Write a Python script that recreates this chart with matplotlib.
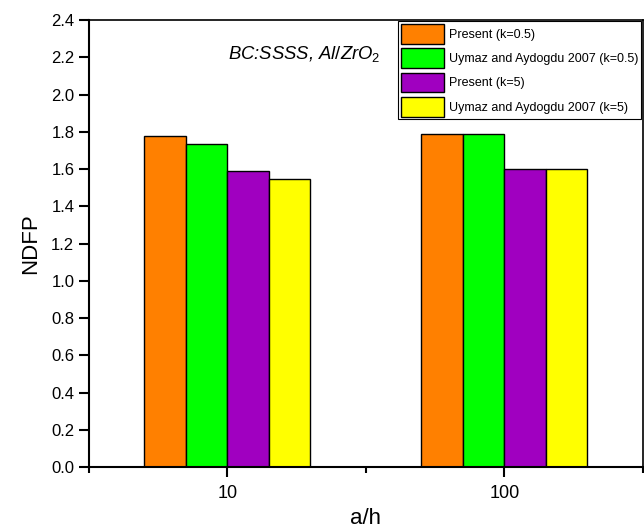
import numpy as np
import matplotlib
matplotlib.use("Agg")
import matplotlib.pyplot as plt
from matplotlib.ticker import MultipleLocator, FormatStrFormatter

plt.rcParams['font.family'] = ['Liberation Sans', 'DejaVu Sans']
plt.rcParams['mathtext.fontset'] = 'custom'
plt.rcParams['mathtext.rm'] = 'Liberation Sans'
plt.rcParams['mathtext.it'] = 'Liberation Sans:italic'

categories = ["10", "100"]
series_names = ["Present (k=0.5)", "Uymaz and Aydogdu 2007 (k=0.5)",
                "Present (k=5)", "Uymaz and Aydogdu 2007 (k=5)"]
present_k05 = [1.78, 1.79]
uymaz_k05 = [1.735, 1.79]
present_k5 = [1.59, 1.60]
uymaz_k5 = [1.545, 1.60]
colors = ["#FF8000", "#00FF00", "#A000C0", "#FFFF00"]

values = [present_k05, uymaz_k05, present_k5, uymaz_k5]

fig = plt.figure(figsize=(6.44, 5.32), dpi=100)
ax = fig.add_axes([0.138, 0.122, 0.860, 0.840])

x = np.arange(1, len(categories) + 1)
w = 0.15
for i, (vals, name, c) in enumerate(zip(values, series_names, colors)):
    ax.bar(x - 0.3 + w * i, vals, width=w, align='edge', color=c,
           edgecolor='black', linewidth=1.0, label=name)

ax.set_xlim(0.5, 2.5)
ax.set_ylim(0, 2.4)
ax.set_xticks(x)
ax.set_xticklabels(categories)
ax.xaxis.set_minor_locator(MultipleLocator(0.5))
ax.yaxis.set_major_locator(MultipleLocator(0.2))
ax.yaxis.set_major_formatter(FormatStrFormatter('%.1f'))
ax.tick_params(axis='both', which='major', direction='out', length=7,
               width=1.5, labelsize=12)
ax.tick_params(axis='x', which='major', labelsize=13, pad=6)
ax.tick_params(axis='x', which='minor', direction='out', length=4, width=1.5)
for s in ['left', 'bottom']:
    ax.spines[s].set_linewidth(1.5)
for s in ['top', 'right']:
    ax.spines[s].set_linewidth(1.2)

ax.set_ylabel("NDFP", fontsize=16, labelpad=7)
ax.set_xlabel("a/h", fontsize=16, labelpad=4)

ax.text(0.251, 0.924, r"BC:SSSS, $Al/ZrO_2$", transform=ax.transAxes,
        fontsize=13.3, style='italic', va='center', ha='left')

leg = ax.legend(loc='upper right', fontsize=9, handlelength=3.45,
                handleheight=2.05, labelspacing=0.36, borderpad=0.22,
                handletextpad=0.4, borderaxespad=0.1, fancybox=False,
                framealpha=1, edgecolor='black')
leg.get_frame().set_linewidth(0.8)

fig.savefig("out.png", dpi=100)
